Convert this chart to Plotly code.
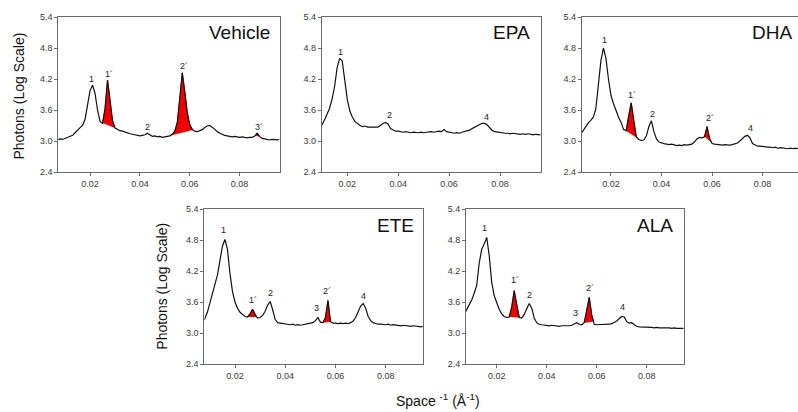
import plotly.graph_objects as go
import numpy as np

# ---------------- data ----------------
X_GRID = [0.007, 0.008, 0.009, 0.010, 0.011, 0.012, 0.013, 0.014, 0.015, 0.016,
          0.017, 0.018, 0.019, 0.020, 0.021, 0.022, 0.023, 0.024, 0.025, 0.026,
          0.027, 0.028, 0.029, 0.030, 0.031, 0.032, 0.033, 0.034, 0.035, 0.036,
          0.037, 0.038, 0.039, 0.040, 0.041, 0.042, 0.043, 0.044, 0.045, 0.046,
          0.047, 0.048, 0.049, 0.050, 0.051, 0.052, 0.053, 0.054, 0.055, 0.056,
          0.057, 0.058, 0.059, 0.060, 0.061, 0.062, 0.063, 0.064, 0.065, 0.066,
          0.067, 0.068, 0.069, 0.070, 0.071, 0.072, 0.073, 0.074, 0.075, 0.076,
          0.077, 0.078, 0.079, 0.080, 0.081, 0.082, 0.083, 0.084, 0.085, 0.086,
          0.087, 0.088, 0.089, 0.090, 0.091, 0.092, 0.093, 0.094, 0.095, 0.096]

VEHICLE = [3.03, 3.04, 3.03, 3.05, 3.06, 3.08, 3.11, 3.16, 3.22, 3.26,
           3.30, 3.42, 3.70, 3.98, 4.08, 3.92, 3.60, 3.38, 3.34, 3.62,
           4.18, 3.80, 3.40, 3.25, 3.22, 3.20, 3.19, 3.17, 3.15, 3.14,
           3.13, 3.12, 3.12, 3.10, 3.11, 3.12, 3.15, 3.12, 3.09, 3.10,
           3.08, 3.09, 3.07, 3.08, 3.09, 3.10, 3.13, 3.19, 3.36, 3.80,
           4.32, 3.95, 3.55, 3.32, 3.22, 3.19, 3.18, 3.20, 3.22, 3.26,
           3.29, 3.30, 3.27, 3.23, 3.18, 3.15, 3.13, 3.11, 3.10, 3.09,
           3.08, 3.09, 3.08, 3.07, 3.08, 3.07, 3.06, 3.07, 3.07, 3.09,
           3.15, 3.09, 3.05, 3.04, 3.03, 3.02, 3.03, 3.02, 3.02, 3.03]

EPA = [3.20, 3.22, 3.26, 3.31, 3.40, 3.51, 3.63, 3.81, 4.05, 4.42,
       4.60, 4.55, 4.22, 3.80, 3.58, 3.46, 3.38, 3.33, 3.30, 3.28,
       3.29, 3.27, 3.27, 3.26, 3.26, 3.27, 3.30, 3.34, 3.36, 3.33,
       3.24, 3.21, 3.19, 3.19, 3.18, 3.17, 3.18, 3.17, 3.16, 3.17,
       3.16, 3.16, 3.17, 3.16, 3.17, 3.18, 3.18, 3.17, 3.18, 3.19,
       3.18, 3.22, 3.18, 3.17, 3.16, 3.15, 3.16, 3.15, 3.17, 3.18,
       3.19, 3.21, 3.24, 3.27, 3.30, 3.32, 3.34, 3.34, 3.31, 3.25,
       3.20, 3.18, 3.17, 3.16, 3.16, 3.15, 3.15, 3.14, 3.15, 3.14,
       3.14, 3.13, 3.14, 3.13, 3.14, 3.13, 3.12, 3.13, 3.13, 3.12]

DHA = [3.10, 3.14, 3.20, 3.28, 3.35, 3.40, 3.46, 3.62, 4.05, 4.55,
       4.80, 4.60, 4.20, 3.88, 3.72, 3.58, 3.46, 3.36, 3.22, 3.20,
       3.50, 3.74, 3.40, 3.08, 3.03, 3.01, 3.02, 3.10, 3.28, 3.39,
       3.18, 3.04, 2.98, 2.96, 2.95, 2.94, 2.93, 2.94, 2.92, 2.91,
       2.92, 2.91, 2.93, 2.92, 2.93, 2.94, 2.98, 3.04, 3.07, 3.06,
       3.08, 3.28, 3.05, 2.95, 2.94, 2.93, 2.93, 2.92, 2.93, 2.92,
       2.92, 2.93, 2.94, 2.96, 3.00, 3.04, 3.09, 3.11, 3.06, 2.95,
       2.92, 2.90, 2.90, 2.89, 2.89, 2.88, 2.88, 2.87, 2.88, 2.86,
       2.87, 2.86, 2.86, 2.85, 2.86, 2.85, 2.86, 2.85, 2.86, 2.85]

ETE = [3.22, 3.28, 3.40, 3.58, 3.75, 3.92, 4.12, 4.40, 4.68, 4.81,
       4.62, 4.15, 3.80, 3.60, 3.48, 3.40, 3.35, 3.32, 3.31, 3.37,
       3.46, 3.35, 3.29, 3.30, 3.34, 3.42, 3.54, 3.61, 3.45, 3.26,
       3.20, 3.19, 3.18, 3.18, 3.17, 3.16, 3.17, 3.15, 3.16, 3.15,
       3.16, 3.17, 3.17, 3.18, 3.20, 3.24, 3.30, 3.21, 3.20, 3.30,
       3.63, 3.22, 3.19, 3.19, 3.18, 3.19, 3.18, 3.19, 3.18, 3.20,
       3.23, 3.30, 3.42, 3.52, 3.57, 3.48, 3.32, 3.24, 3.20, 3.18,
       3.17, 3.17, 3.16, 3.16, 3.17, 3.15, 3.16, 3.15, 3.15, 3.14,
       3.15, 3.14, 3.14, 3.13, 3.14, 3.13, 3.13, 3.12, 3.13, 3.13]

ALA = [3.36, 3.45, 3.54, 3.64, 3.77, 3.92, 4.35, 4.62, 4.72, 4.85,
       4.50, 3.98, 3.72, 3.58, 3.46, 3.37, 3.32, 3.30, 3.31, 3.50,
       3.82, 3.55, 3.30, 3.29, 3.36, 3.47, 3.57, 3.48, 3.29, 3.20,
       3.17, 3.16, 3.15, 3.15, 3.14, 3.15, 3.14, 3.14, 3.13, 3.14,
       3.14, 3.13, 3.14, 3.15, 3.17, 3.20, 3.17, 3.16, 3.20, 3.42,
       3.69, 3.35, 3.17, 3.16, 3.16, 3.17, 3.16, 3.17, 3.17, 3.18,
       3.20, 3.23, 3.28, 3.32, 3.31, 3.22, 3.19, 3.20, 3.16, 3.13,
       3.12, 3.12, 3.11, 3.12, 3.11, 3.11, 3.10, 3.11, 3.10, 3.10,
       3.11, 3.10, 3.10, 3.09, 3.10, 3.09, 3.09, 3.10, 3.09, 3.09]

PANEL_NAMES = ["Vehicle", "EPA", "DHA", "ETE", "ALA"]
PANEL_SERIES = [VEHICLE, EPA, DHA, ETE, ALA]

# integration windows of the red (primed) peaks
VEHICLE_RED = [(0.0245, 0.0300), (0.0520, 0.0612), (0.0862, 0.0882)]
EPA_RED = []
DHA_RED = [(0.0256, 0.0306), (0.0570, 0.0598)]
ETE_RED = [(0.0250, 0.0287), (0.0550, 0.0580)]
ALA_RED = [(0.0248, 0.0291), (0.0548, 0.0587)]
PANEL_RED = [VEHICLE_RED, EPA_RED, DHA_RED, ETE_RED, ALA_RED]

# peak labels: (text, x, y)
VEHICLE_LABELS = [("1", 0.0204, 4.20), ("1´", 0.0276, 4.29), ("2", 0.0432, 3.28),
                  ("2´", 0.0575, 4.45), ("3´", 0.0876, 3.28)]
EPA_LABELS = [("1", 0.0175, 4.72), ("2", 0.0364, 3.50), ("4", 0.0746, 3.47)]
DHA_LABELS = [("1", 0.0175, 4.96), ("1´", 0.0283, 3.89), ("2", 0.0366, 3.53),
              ("2´", 0.0592, 3.44), ("4", 0.0752, 3.26)]
ETE_LABELS = [("1", 0.0156, 4.99), ("1´", 0.0270, 3.64), ("2", 0.0342, 3.77),
              ("3", 0.0525, 3.48), ("2´", 0.0568, 3.82), ("4", 0.0711, 3.72)]
ALA_LABELS = [("1", 0.0153, 5.03), ("1´", 0.0273, 4.03), ("2", 0.0333, 3.74),
              ("3", 0.0516, 3.39), ("2´", 0.0573, 3.87), ("4", 0.0703, 3.50)]
PANEL_LABELS = [VEHICLE_LABELS, EPA_LABELS, DHA_LABELS, ETE_LABELS, ALA_LABELS]

X_TICKS = [0.02, 0.04, 0.06, 0.08]
X_TICK_TEXT = ["0.02", "0.04", "0.06", "0.08"]
Y_TICKS = [2.4, 3.0, 3.6, 4.2, 4.8, 5.4]
Y_TICK_TEXT = ["2.4", "3.0", "3.6", "4.2", "4.8", "5.4"]
Y_RANGE = [2.4, 5.4]

# ---------------- layout geometry (pixels of 798x412 canvas) ----------------
W, H = 798, 412
# left, right, top, bottom (px) and x-range per panel
GEOM = [
    (58.3, 279.5, 17, 172, [0.00726, 0.0960]),
    (321.7, 540.5, 17, 172, [0.00994, 0.0959]),
    (581.7, 798.0, 17, 172, [0.00841, 0.0940]),
    (204.3, 422.7, 209, 364, [0.00778, 0.0947]),
    (466.0, 683.5, 209, 364, [0.00772, 0.0947]),
]
TITLE_POS = [(272, 33), (532, 33), (794, 33), (416, 225), (675, 225)]

FRAME = "#6a6a6a"
TICKFONT = dict(family="Liberation Sans, Arial, sans-serif", size=9, color="#3a3a3a")
RED = "#f00000"

fig = go.Figure()
layout = dict(
    width=W, height=H,
    margin=dict(l=0, r=0, t=0, b=0, autoexpand=False),
    paper_bgcolor="white", plot_bgcolor="white",
    showlegend=False,
    font=dict(family="Liberation Sans, Arial, sans-serif", color="#111"),
)
annotations = []

xg = np.array(X_GRID)
for i, (name, ys, reds, labels, geom) in enumerate(
        zip(PANEL_NAMES, PANEL_SERIES, PANEL_RED, PANEL_LABELS, GEOM)):
    k = i + 1
    xa = "x" if k == 1 else f"x{k}"
    ya = "y" if k == 1 else f"y{k}"
    yv = np.array(ys)
    left, right, top, bottom, xr = geom

    # red filled peaks (area above straight baseline)
    for (a, b) in reds:
        inside = (xg > a) & (xg < b)
        px = [a] + list(xg[inside]) + [b]
        py = [float(np.interp(a, xg, yv))] + list(yv[inside]) + [float(np.interp(b, xg, yv))]
        fig.add_trace(go.Scatter(x=px, y=py, xaxis=xa, yaxis=ya, mode="lines",
                                 fill="toself", fillcolor=RED,
                                 line=dict(color=RED, width=0.8),
                                 hoverinfo="skip"))
    # curve
    fig.add_trace(go.Scatter(x=X_GRID, y=ys, xaxis=xa, yaxis=ya, mode="lines",
                             line=dict(color="#111111", width=1.2), hoverinfo="skip"))

    xkey = "xaxis" if k == 1 else f"xaxis{k}"
    ykey = "yaxis" if k == 1 else f"yaxis{k}"
    layout[xkey] = dict(
        domain=[left / W, right / W], anchor=ya, range=xr,
        tickvals=X_TICKS, ticktext=X_TICK_TEXT, ticks="outside", ticklen=3,
        tickcolor=FRAME, tickwidth=1, tickfont=TICKFONT,
        showline=True, linecolor=FRAME, linewidth=1, mirror=True,
        showgrid=False, zeroline=False, fixedrange=True,
    )
    layout[ykey] = dict(
        domain=[1 - bottom / H, 1 - top / H], anchor=xa, range=Y_RANGE,
        tickvals=Y_TICKS, ticktext=Y_TICK_TEXT, ticks="outside", ticklen=3,
        tickcolor=FRAME, tickwidth=1, tickfont=TICKFONT,
        showline=True, linecolor=FRAME, linewidth=1, mirror=(k != 3),
        showgrid=False, zeroline=False, fixedrange=True,
    )

    for (txt, lx, ly) in labels:
        annotations.append(dict(text=txt, x=lx, y=ly, xref=xa, yref=ya,
                                showarrow=False, xanchor="center", yanchor="middle",
                                font=dict(size=9, color="#222")))
    tx, ty = TITLE_POS[i]
    annotations.append(dict(text=name, x=tx / W, y=1 - ty / H, xref="paper", yref="paper",
                            showarrow=False, xanchor="right", yanchor="middle",
                            font=dict(size=19, color="#111")))

# axis titles
annotations.append(dict(text="Photons (Log Scale)", x=18.5 / W, y=1 - 96 / H,
                        xref="paper", yref="paper", showarrow=False, textangle=-90,
                        xanchor="center", yanchor="middle", font=dict(size=14, color="#111")))
annotations.append(dict(text="Photons (Log Scale)", x=161.7 / W, y=1 - 286 / H,
                        xref="paper", yref="paper", showarrow=False, textangle=-90,
                        xanchor="center", yanchor="middle", font=dict(size=14, color="#111")))
annotations.append(dict(text="Space <sup>-1</sup> (Å<sup>-1</sup>)", x=438 / W, y=1.5 / H,
                        xref="paper", yref="paper", showarrow=False,
                        xanchor="center", yanchor="bottom", font=dict(size=14, color="#111")))

layout["annotations"] = annotations
fig.update_layout(**layout)

POST = ("document.body.style.margin='0';document.body.style.padding='0';"
        "document.documentElement.style.overflow='hidden';")
fig.write_html("out.html", post_script=POST, config={"displayModeBar": False})
